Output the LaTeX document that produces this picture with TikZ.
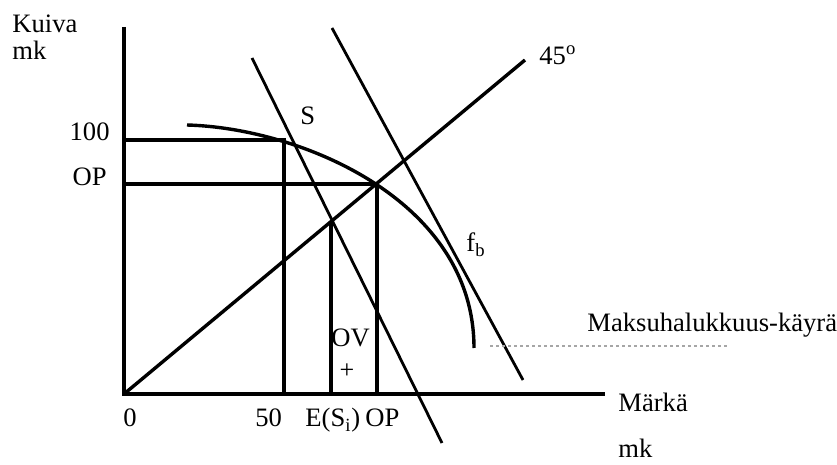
\documentclass[tikz,border=0pt]{standalone}
\usepackage{fontspec}
\setmainfont{Liberation Serif}
\begin{document}
\begin{tikzpicture}[x=0.5pt,y=-0.5pt,
  thick line/.style={line width=1.7pt, line cap=butt},
  thin line/.style={line width=1.4pt},
  lbl/.style={anchor=base west, inner sep=0pt, font=\fontsize{13.3}{15}\selectfont},
  lble/.style={anchor=base east, inner sep=0pt, font=\fontsize{13.3}{15}\selectfont}]
\useasboundingbox (0,0) rectangle (837,465);
% coordinates
\coordinate (O) at (124,394);
\coordinate (Ytop) at (124,27);
\coordinate (Xend) at (605,394);
\coordinate (A100) at (124,140);
\coordinate (S) at (284,140);
\coordinate (Sb) at (284,394);
\coordinate (AOP) at (124,184);
\coordinate (Q) at (377,184);
\coordinate (Qb) at (377,394);
\coordinate (Et) at (331,221);
\coordinate (Eb) at (331,394);
\coordinate (D45) at (525,60);
\coordinate (L1a) at (252,58);
\coordinate (L1b) at (442,443);
\coordinate (L2a) at (332,28);
\coordinate (L2b) at (523,380);
\coordinate (Ca) at (187,125);
\coordinate (Cb) at (474,348);
\coordinate (Da) at (490,346);
\coordinate (Db) at (727,346);
% axes
\draw[thick line] (Ytop) -- (O) -- (Xend);
% guide lines
\draw[thick line] (A100) -- (S) -- (Sb);
\draw[thick line] (AOP) -- (Q) -- (Qb);
\draw[thick line] (Et) -- (Eb);
% 45 degree line
\draw[thick line] (O) -- (D45);
% budget lines
\draw[thin line] (L1a) -- (L1b);
\draw[thin line] (L2a) -- (L2b);
% curve f_b
\draw[thick line] (Ca) .. controls (300,128) and (474,200) .. (Cb);
% dotted line
\draw[gray!70, line width=0.6pt, dash pattern=on 1.5pt off 1.5pt] (Da) -- (Db);
% labels
\node[lbl] (kuiva) at (12,33) {Kuiva};
\node[lbl] (mky) at (12,60) {mk};
\node[lble] (l100) at (110,141) {100};
\node[lble] (lOP) at (107,186) {OP};
\node[lbl] (lS) at (300,125) {S};
\node[lbl] (l45) at (539,65) {45\textsuperscript{o}};
\node[lbl] (lfb) at (466,252) {f\textsubscript{b}};
\node[lbl] (lmak) at (587,332) {Maksuhalukkuus-käyrä};
\node[lbl] (lmarka) at (618,412) {Märkä};
\node[lbl] (lmkx) at (618,458) {mk};
\node[lbl] (l0) at (123,427) {0};
\node[lbl] (l50) at (255,427) {50};
\node[lbl] (lE) at (305,427) {E(S\textsubscript{i})};
\node[lbl] (lOPx) at (365,427) {OP};
\node[lbl] (lOV) at (331,347) {OV};
\node[inner sep=0pt, font=\fontsize{13}{15}\selectfont] (plus) at (347,371) {+};
\end{tikzpicture}
\end{document}
